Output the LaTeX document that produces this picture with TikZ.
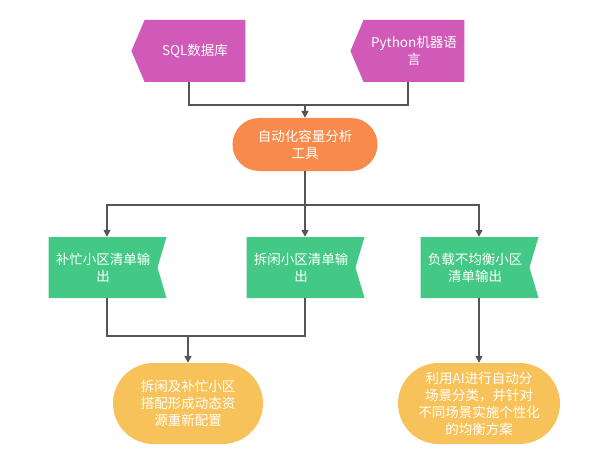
\documentclass[tikz,border=0pt]{standalone}
\usepackage{fontspec}
\setmainfont{Noto Sans CJK SC}
\usetikzlibrary{shapes.symbols,shapes.misc,arrows.meta}
\definecolor{srcpink}{HTML}{D159B7}
\definecolor{tooorange}{HTML}{F88A4C}
\definecolor{outgreen}{HTML}{43C985}
\definecolor{resyellow}{HTML}{F8C25B}
\definecolor{linegray}{HTML}{555555}
\begin{document}
\begin{tikzpicture}[x=1pt,y=-1pt,
  %% Top source boxes (pointing left)
  srcbox/.style={signal, signal to=west, signal pointer angle=134,
                 fill=srcpink, draw=none, text=white, align=center,
                 font=\fontsize{13.5}{17}\selectfont, inner sep=0pt,
                 minimum width=114pt, minimum height=62pt},
  %% Analysis tool stadium
  toolbox/.style={rounded rectangle, fill=tooorange, draw=none, text=white,
                  align=center, font=\fontsize{13.5}{17}\selectfont,
                  minimum width=145pt, minimum height=53pt, inner sep=0pt},
  %% Green output lists (notch on the right)
  outbox/.style={signal, signal to=nowhere, signal from=east,
                 signal pointer angle=147,
                 fill=outgreen, draw=none, text=white, align=center,
                 font=\fontsize{13.5}{17}\selectfont, inner sep=0pt,
                 minimum width=118pt, minimum height=61pt},
  %% Yellow result stadiums
  resbox/.style={rounded rectangle, fill=resyellow, draw=none, text=white,
                 align=center, font=\fontsize{13.5}{17}\selectfont,
                 minimum height=81pt, inner sep=0pt},
  %% Connectors
  line/.style={draw=linegray, line width=1.5pt},
  arr/.style={line, -{Triangle[length=7pt,width=7pt]}}
]
\useasboundingbox (0,0) rectangle (594,468);

%% ── Sources ────────────────────────────────────────────
\node[srcbox] (sql) at (195,51) {SQL数据库};
\node[srcbox] (py)  at (414,51) {Python机器语\\言};

%% ── Tool ───────────────────────────────────────────────
\node[toolbox] (tool) at (305,144.5) {自动化容量分析\\工具};

%% ── Output lists ───────────────────────────────────────
\node[outbox] (busy)  at (103,267.5) {补忙小区清单输\\出};
\node[outbox] (idle)  at (301,267.5) {拆闲小区清单输\\出};
\node[outbox] (unbal) at (475,267.5) {负载不均衡小区\\清单输出};

%% ── Results ────────────────────────────────────────────
\node[resbox, minimum width=150pt] (realloc) at (188,403.5)
  {拆闲及补忙小区\\搭配形成动态资\\源重新配置};
\node[resbox, minimum width=162pt] (aibal) at (479,403.5)
  {利用AI进行自动分\\场景分类，并针对\\不同场景实施个性化\\的均衡方案};

%% ── Arrows ─────────────────────────────────────────────
%%  signal shapes are off-centre, so connectors leave from shifted points
\coordinate (sqlS)   at ([xshift=-6pt]sql.south);
\coordinate (pyS)    at ([xshift=-6pt]py.south);
\coordinate (busyN)  at ([xshift=4pt]busy.north);
\coordinate (busyS)  at ([xshift=4pt]busy.south);
\coordinate (idleN)  at ([xshift=4pt]idle.north);
\coordinate (idleS)  at ([xshift=4pt]idle.south);
\coordinate (unbalN) at ([xshift=4pt]unbal.north);
\coordinate (unbalS) at ([xshift=4pt]unbal.south);

\coordinate (joinA) at (tool.north |- 0,105);
\draw[line] (sqlS) |- (joinA) -| (pyS);
\draw[arr] (joinA) -- (tool.north);

\coordinate (joinB) at (tool.south |- 0,205);
\draw[line] (tool.south) -- (joinB);
\draw[arr] (joinB) -| (busyN);
\draw[arr] (joinB) -- (idleN);
\draw[arr] (joinB) -| (unbalN);

\coordinate (joinC) at (realloc.north |- 0,336);
\draw[line] (busyS) |- (joinC) -| (idleS);
\draw[arr] (joinC) -- (realloc.north);
\draw[arr] (unbalS) -- (aibal.north);

\end{tikzpicture}
\end{document}
